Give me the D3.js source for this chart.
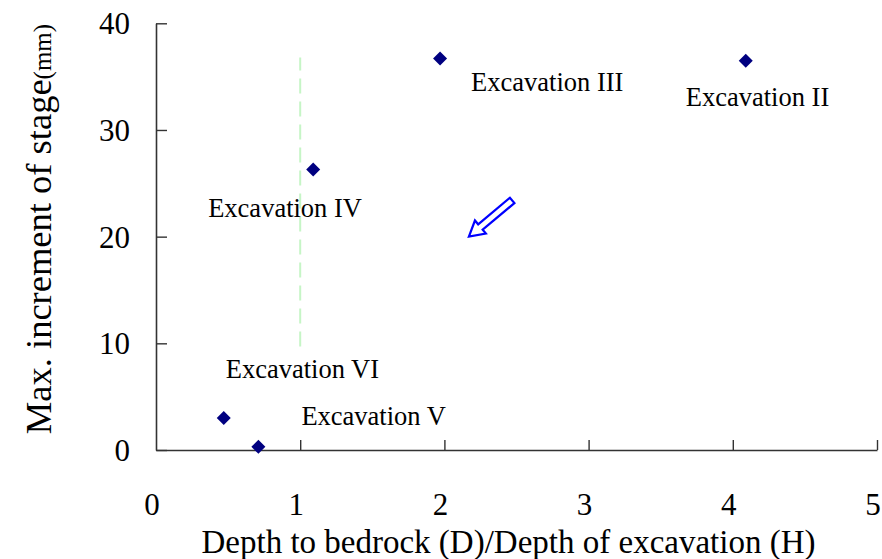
<!DOCTYPE html>
<html>
<head>
<meta charset="utf-8">
<script src="https://cdn.jsdelivr.net/npm/d3@7/dist/d3.min.js"></script>
<style>
  html, body { margin: 0; padding: 0; background: #fff; }
  svg { display: block; }
  svg text { font-family: "Liberation Serif", "Times New Roman", serif; }
</style>
</head>
<body>
<svg id="chart" width="882" height="559"></svg>
<script>
// Excavation stages and their measurements
const stages = ["Excavation II", "Excavation III", "Excavation IV", "Excavation VI", "Excavation V"];
const depthRatio = [4.09, 1.97, 1.09, 0.47, 0.71];     // D/H
const maxIncrement = [36.5, 36.7, 26.3, 3.0, 0.3];     // mm

const xTicks = [0, 1, 2, 3, 4, 5];
const yTicks = [0, 10, 20, 30, 40];

// Reference line at D/H = 1
const refLineX = 1.0;
const refLineY = [9.7, 36.8];

// Arrow annotation (tail -> tip), data units
const arrowTail = [2.47, 23.4];
const arrowTip = [2.17, 20.0];

const svg = d3.select("#chart");
const x = d3.scaleLinear().domain([0, 5]).range([156, 877]);
const y = d3.scaleLinear().domain([0, 40]).range([450, 23.3]);

const axisColor = "#333";

// X axis with inward ticks
const gx = svg.append("g").attr("transform", `translate(0,${y(0)})`)
  .call(d3.axisTop(x).tickValues(xTicks).tickSize(10).tickSizeOuter(0).tickFormat(""));
gx.select(".domain").attr("stroke", axisColor).attr("stroke-width", 1.6);
gx.selectAll(".tick line").attr("stroke", axisColor).attr("stroke-width", 1.4);
gx.selectAll(".tick").filter(d => d === 0).select("line").remove();

// Y axis with inward ticks
const gy = svg.append("g").attr("transform", `translate(${x(0)},0)`)
  .call(d3.axisRight(y).tickValues(yTicks).tickSize(11).tickSizeOuter(0).tickFormat(""));
gy.select(".domain").attr("stroke", axisColor).attr("stroke-width", 1.6);
gy.selectAll(".tick line").attr("stroke", axisColor).attr("stroke-width", 1.4);

// Tick labels
svg.append("g").selectAll("text").data(xTicks).join("text")
  .attr("x", d => x(d) - 4).attr("y", 515)
  .attr("text-anchor", "middle").attr("font-size", 31).attr("fill", "#000")
  .text(d => d);
svg.append("g").selectAll("text").data(yTicks).join("text")
  .attr("x", 130).attr("y", d => y(d)).attr("dy", "0.35em")
  .attr("text-anchor", "end").attr("font-size", 31).attr("fill", "#000")
  .text(d => d);

// Axis titles
svg.append("text")
  .attr("x", 508.5).attr("y", 553)
  .attr("text-anchor", "middle").attr("font-size", 33).attr("fill", "#000")
  .text("Depth to bedrock (D)/Depth of excavation (H)");

const yt = svg.append("text")
  .attr("transform", "translate(51,229) rotate(-90)")
  .attr("text-anchor", "middle").attr("fill", "#000");
yt.append("tspan").attr("font-size", 36.5).text("Max. increment of stage");
yt.append("tspan").attr("font-size", 25).text("(mm)");

// Dashed reference line
svg.append("line")
  .attr("x1", x(refLineX)).attr("x2", x(refLineX))
  .attr("y1", y(refLineY[0])).attr("y2", y(refLineY[1]))
  .attr("stroke", "#c6f5c6").attr("stroke-width", 2)
  .attr("stroke-dasharray", "15,8");

// Data points (diamonds)
const pts = stages.map((s, i) => ({ name: s, x: depthRatio[i], y: maxIncrement[i] }));
svg.append("g").selectAll("path").data(pts).join("path")
  .attr("transform", d => `translate(${x(d.x)},${y(d.y)})`)
  .attr("d", "M0,-7L7,0L0,7L-7,0Z")
  .attr("fill", "#000080");

// Stage labels, offset from their points
const labelOffset = {
  "Excavation II": [-60, 45],
  "Excavation III": [31, 32],
  "Excavation IV": [-105, 48],
  "Excavation VI": [2, -40],
  "Excavation V": [43, -22]
};
svg.append("g").selectAll("text").data(pts).join("text")
  .attr("x", d => x(d.x) + labelOffset[d.name][0])
  .attr("y", d => y(d.y) + labelOffset[d.name][1])
  .attr("font-size", 26.5).attr("fill", "#000")
  .text(d => d.name);

// Hollow block arrow
const ax0 = x(arrowTail[0]), ay0 = y(arrowTail[1]);
const ax1 = x(arrowTip[0]), ay1 = y(arrowTip[1]);
const len = Math.hypot(ax1 - ax0, ay1 - ay0);
const ang = Math.atan2(ay1 - ay0, ax1 - ax0) * 180 / Math.PI;
const sw = 3.5, hw = 8.5, hl = 15;
svg.append("path")
  .attr("transform", `translate(${ax0},${ay0}) rotate(${ang})`)
  .attr("d", `M0,${-sw}L${len - hl},${-sw}L${len - hl},${-hw}L${len},0L${len - hl},${hw}L${len - hl},${sw}L0,${sw}Z`)
  .attr("fill", "#fff").attr("stroke", "#0000ff").attr("stroke-width", 2.2)
  .attr("stroke-linejoin", "miter");
</script>
</body>
</html>
